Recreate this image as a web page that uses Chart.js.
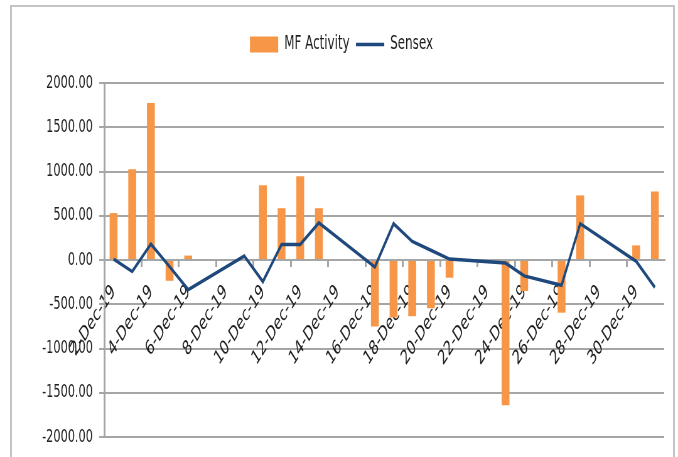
<!DOCTYPE html>
<html>
<head>
<meta charset="utf-8">
<script src="https://cdn.jsdelivr.net/npm/chart.js@4.4.1/dist/chart.umd.min.js"></script>
<style>
    body { margin: 0; background: #fff; }
    #wrap { position: relative; width: 678px; height: 457px; overflow: hidden; }
    #frame { position: absolute; left: 10px; top: 5px; width: 661px; height: 470px; border: 2px solid #c4c4c4; border-bottom: none; }
    /* the original picture is squeezed sideways, so draw wide and scale down */
    #chart { position: absolute; left: 0; top: 0; width: 678px; height: 457px; }
</style>
</head>
<body>
<div id="wrap">
    <div id="frame"></div>
    <canvas id="chart" width="1080" height="457" style="width:678px;height:457px"></canvas>
</div>
<script>
// Trading days in December 2019 (nulls = market closed)
const dates = ['2-Dec-19', '3-Dec-19', '4-Dec-19', '5-Dec-19', '6-Dec-19', '7-Dec-19', '8-Dec-19',
    '9-Dec-19', '10-Dec-19', '11-Dec-19', '12-Dec-19', '13-Dec-19', '14-Dec-19', '15-Dec-19',
    '16-Dec-19', '17-Dec-19', '18-Dec-19', '19-Dec-19', '20-Dec-19', '21-Dec-19', '22-Dec-19',
    '23-Dec-19', '24-Dec-19', '25-Dec-19', '26-Dec-19', '27-Dec-19', '28-Dec-19', '29-Dec-19',
    '30-Dec-19', '31-Dec-19'];

const mfActivity = [530, 1025, 1775, -235, 50, null, null,
    0, 845, 585, 945, 585, null, null,
    -750, -650, -635, -545, -200, null, null,
    -1640, -350, null, -595, 730, null, null,
    165, 775];

const sensex = [10, -130, 180, -75, -335, null, null,
    45, -245, 175, 175, 420, null, null,
    -80, 410, 210, 110, 10, null, null,
    -35, -180, null, -285, 410, null, null,
    -15, -310];

const yTicks = { min: -2000, max: 2000, step: 500 };

const FONT = '"DejaVu Sans", sans-serif';
const gridGray = '#a6a6a6';
const textColor = '#1e1e1e';

// push the plot area down below the legend
const legendMargin = {
    id: 'legendMargin',
    beforeInit(chart) {
        const fit = chart.legend.fit;
        chart.legend.fit = function () {
            fit.bind(chart.legend)();
            this.height += 19;
        };
    }
};

new Chart(document.getElementById('chart'), {
    data: {
        labels: dates,
        datasets: [{
            type: 'bar',
            label: 'MF Activity',
            data: mfActivity,
            backgroundColor: '#f79646',
            borderWidth: 0,
            categoryPercentage: 0.42,
            barPercentage: 1,
            pointStyle: 'rect',
            order: 1
        }, {
            type: 'line',
            label: 'Sensex',
            data: sensex,
            borderColor: '#1f497d',
            backgroundColor: '#1f497d',
            borderWidth: 3.5,
            tension: 0,
            pointRadius: 0,
            pointStyle: 'line',
            spanGaps: true,
            order: 0
        }]
    },
    options: {
        responsive: false,
        animation: false,
        layout: { padding: { left: 30, right: 22, top: 25, bottom: 16 } },
        plugins: {
            tooltip: { enabled: false },
            legend: {
                position: 'top',
                labels: {
                    usePointStyle: true,
                    pointStyleWidth: 45,
                    boxHeight: 16,
                    padding: 10,
                    color: textColor,
                    font: { family: FONT, size: 19 },
                    sort: (a, b) => a.datasetIndex - b.datasetIndex
                }
            }
        },
        scales: {
            x: {
                position: { y: 0 },
                offset: true,
                grid: {
                    offset: true,
                    drawOnChartArea: false,
                    tickLength: 6,
                    lineWidth: 3,
                    color: ctx => ctx.index % 2 === 0 ? gridGray : 'rgba(0,0,0,0)'
                },
                border: { color: gridGray, width: 2 },
                ticks: {
                    autoSkip: false,
                    minRotation: 45,
                    maxRotation: 45,
                    padding: 14,
                    color: textColor,
                    font: { family: FONT, size: 20 },
                    callback: (v, i) => i % 2 === 0 ? dates[i] : ''
                }
            },
            y: {
                min: yTicks.min,
                max: yTicks.max,
                afterFit: s => {
                    s.width = 136;
                    s.paddingBottom = 20;
                },
                grid: { color: gridGray, lineWidth: 2, tickLength: 8 },
                border: { color: gridGray, width: 3 },
                ticks: {
                    stepSize: yTicks.step,
                    padding: 10,
                    color: textColor,
                    font: { family: FONT, size: 18 },
                    callback: v => v.toFixed(2)
                }
            }
        }
    },
    plugins: [legendMargin]
});
</script>
</body>
</html>
